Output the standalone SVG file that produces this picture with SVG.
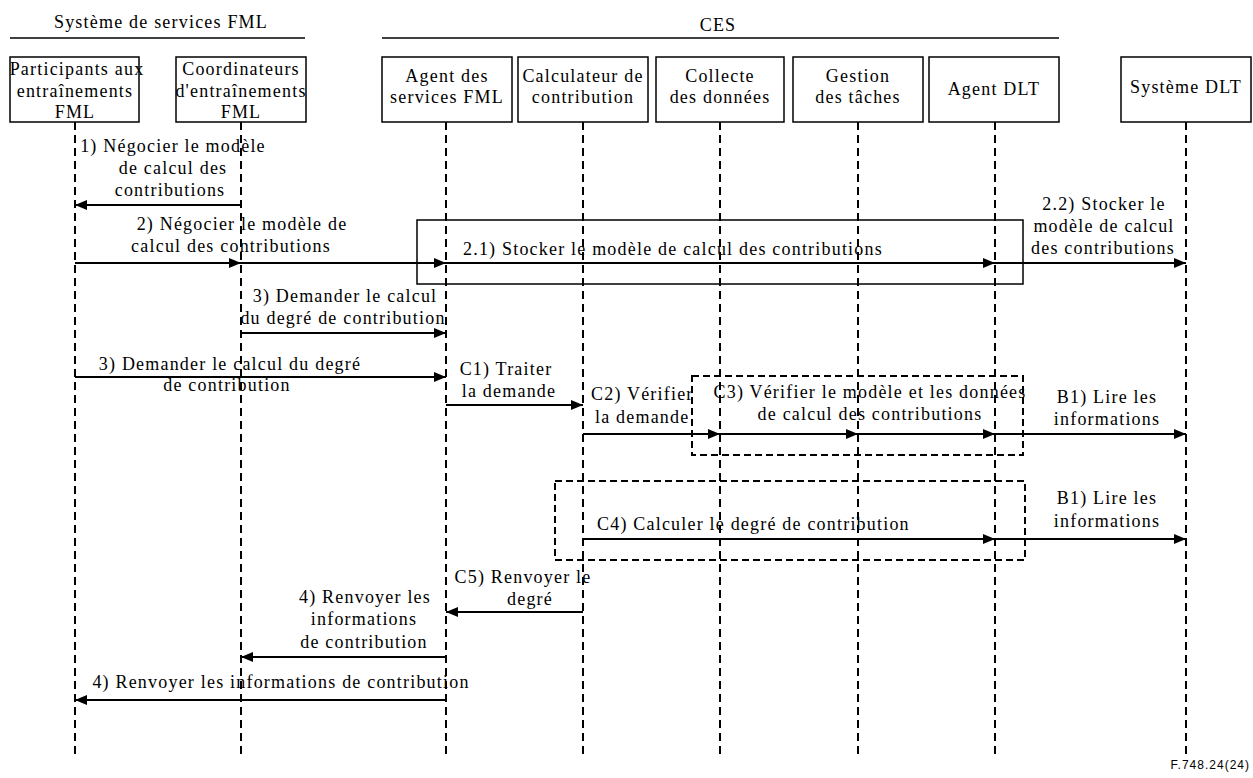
<svg xmlns="http://www.w3.org/2000/svg" width="1253" height="778" viewBox="0 0 1253 778">
  <defs>
    <marker id="head" viewBox="0 0 12 10" refX="12" refY="5" markerWidth="12" markerHeight="10" markerUnits="userSpaceOnUse" orient="auto">
      <path d="M0,0 L12,5 L0,10 z" fill="#000"/>
    </marker>
    <style>
      text { font-family: "Liberation Serif", "Times New Roman", serif; font-size: 18px; letter-spacing: 1.2px; fill: #000; }
      .c { text-anchor: middle; }
      .box { fill: #fff; stroke: #000; stroke-width: 1.5; }
      .life { stroke: #000; stroke-width: 2; stroke-dasharray: 8 5; fill: none; }
      .msg { stroke: #000; stroke-width: 2.2; fill: none; marker-end: url(#head); }
      .frame { fill: none; stroke: #000; stroke-width: 1.5; }
      .dframe { fill: none; stroke: #000; stroke-width: 2; stroke-dasharray: 7 4; }
      .rule { stroke: #000; stroke-width: 1.5; }
      .ref { font-family: "Liberation Sans", Arial, sans-serif; font-size: 12px; letter-spacing: 1px; text-anchor: end; }
    </style>
  </defs>

  <!-- system headers -->
  <g id="header-fml">
    <text class="c" x="161" y="28">Système de services FML</text>
    <line class="rule" x1="10" y1="38" x2="305" y2="38"/>
  </g>
  <g id="header-ces">
    <text class="c" x="718" y="31">CES</text>
    <line class="rule" x1="382" y1="38" x2="1059" y2="38"/>
  </g>

  <!-- lifelines -->
  <g id="lifelines">
    <line class="life" x1="75" y1="122" x2="75" y2="758"/>
    <line class="life" x1="241" y1="122" x2="241" y2="758"/>
    <line class="life" x1="446" y1="122" x2="446" y2="758"/>
    <line class="life" x1="583" y1="122" x2="583" y2="758"/>
    <line class="life" x1="720" y1="122" x2="720" y2="758"/>
    <line class="life" x1="858" y1="122" x2="858" y2="758"/>
    <line class="life" x1="995" y1="122" x2="995" y2="758"/>
    <line class="life" x1="1186" y1="122" x2="1186" y2="758"/>
  </g>

  <!-- participants -->
  <g id="participants">
    <rect class="box" x="10" y="57" width="129" height="65"/>
    <text class="c" x="77" y="75">Participants aux</text>
    <text class="c" x="75" y="97">entraînements</text>
    <text class="c" x="75" y="118">FML</text>
  </g>
  <g id="coordinateurs">
    <rect class="box" x="176" y="57" width="130" height="65"/>
    <text class="c" x="241" y="75">Coordinateurs</text>
    <text class="c" x="241" y="97">d'entraînements</text>
    <text class="c" x="241" y="118">FML</text>
  </g>
  <g id="agent-fml">
    <rect class="box" x="382" y="57" width="130" height="65"/>
    <text class="c" x="447" y="82">Agent des</text>
    <text class="c" x="447" y="103">services FML</text>
  </g>
  <g id="calculateur">
    <rect class="box" x="518" y="57" width="130" height="65"/>
    <text class="c" x="583" y="82">Calculateur de</text>
    <text class="c" x="583" y="103">contribution</text>
  </g>
  <g id="collecte">
    <rect class="box" x="656" y="57" width="128" height="65"/>
    <text class="c" x="720" y="82">Collecte</text>
    <text class="c" x="720" y="103">des données</text>
  </g>
  <g id="gestion">
    <rect class="box" x="793" y="57" width="130" height="65"/>
    <text class="c" x="858" y="82">Gestion</text>
    <text class="c" x="858" y="103">des tâches</text>
  </g>
  <g id="agent-dlt">
    <rect class="box" x="929" y="57" width="130" height="65"/>
    <text class="c" x="994" y="95">Agent DLT</text>
  </g>
  <g id="systeme-dlt">
    <rect class="box" x="1121" y="57" width="130" height="65"/>
    <text class="c" x="1186" y="93">Système DLT</text>
  </g>

  <!-- grouping frames -->
  <g id="frames">
    <rect class="frame" x="417" y="220" width="606" height="64"/>
    <rect class="dframe" x="692" y="376" width="331" height="79"/>
    <rect class="dframe" x="555" y="481" width="470" height="79"/>
  </g>

  <!-- messages -->
  <g id="connectors">
    <line class="msg" x1="241" y1="205" x2="75" y2="205"/>

    <line class="msg" x1="75" y1="263" x2="241" y2="263"/>
    <line class="msg" x1="241" y1="263" x2="446" y2="263"/>
    <line class="msg" x1="446" y1="263" x2="995" y2="263"/>
    <line class="msg" x1="995" y1="263" x2="1186" y2="263"/>

    <line class="msg" x1="241" y1="333" x2="446" y2="333"/>
    <line class="msg" x1="75" y1="377" x2="446" y2="377"/>
    <line class="msg" x1="446" y1="405" x2="583" y2="405"/>

    <line class="msg" x1="583" y1="434" x2="720" y2="434"/>
    <line class="msg" x1="720" y1="434" x2="858" y2="434"/>
    <line class="msg" x1="858" y1="434" x2="995" y2="434"/>
    <line class="msg" x1="995" y1="434" x2="1186" y2="434"/>

    <line class="msg" x1="583" y1="539" x2="995" y2="539"/>
    <line class="msg" x1="995" y1="539" x2="1186" y2="539"/>

    <line class="msg" x1="583" y1="612" x2="446" y2="612"/>
    <line class="msg" x1="446" y1="657" x2="241" y2="657"/>
    <line class="msg" x1="446" y1="700" x2="75" y2="700"/>
  </g>

  <!-- message labels -->
  <g id="labels">
    <text class="c" x="173" y="152">1) Négocier le modèle</text>
    <text class="c" x="173" y="174">de calcul des</text>
    <text class="c" x="170" y="196">contributions</text>

    <text class="c" x="242" y="230">2) Négocier le modèle de</text>
    <text class="c" x="231" y="252">calcul des contributions</text>

    <text x="463" y="255">2.1) Stocker le modèle de calcul des contributions</text>

    <text class="c" x="1104" y="210">2.2) Stocker le</text>
    <text class="c" x="1104" y="232">modèle de calcul</text>
    <text class="c" x="1103" y="254">des contributions</text>

    <text class="c" x="345" y="302">3) Demander le calcul</text>
    <text class="c" x="343" y="324">du degré de contribution</text>

    <text class="c" x="230" y="370">3) Demander le calcul du degré</text>
    <text class="c" x="227" y="391">de contribution</text>

    <text class="c" x="506" y="375">C1) Traiter</text>
    <text class="c" x="509" y="397">la demande</text>

    <text x="591" y="400">C2) Vérifier</text>
    <text x="595" y="423">la demande</text>

    <text class="c" x="870" y="398">C3) Vérifier le modèle et les données</text>
    <text class="c" x="870" y="420">de calcul des contributions</text>

    <text class="c" x="1107" y="403">B1) Lire les</text>
    <text class="c" x="1107" y="425">informations</text>

    <text x="597" y="530">C4) Calculer le degré de contribution</text>

    <text class="c" x="1107" y="504">B1) Lire les</text>
    <text class="c" x="1107" y="527">informations</text>

    <text class="c" x="523" y="583">C5) Renvoyer le</text>
    <text class="c" x="530" y="605">degré</text>

    <text class="c" x="365" y="603">4) Renvoyer les</text>
    <text class="c" x="364" y="625">informations</text>
    <text class="c" x="364" y="648">de contribution</text>

    <text class="c" x="281" y="688">4) Renvoyer les informations de contribution</text>
  </g>

  <text class="ref" x="1250" y="769">F.748.24(24)</text>
</svg>
